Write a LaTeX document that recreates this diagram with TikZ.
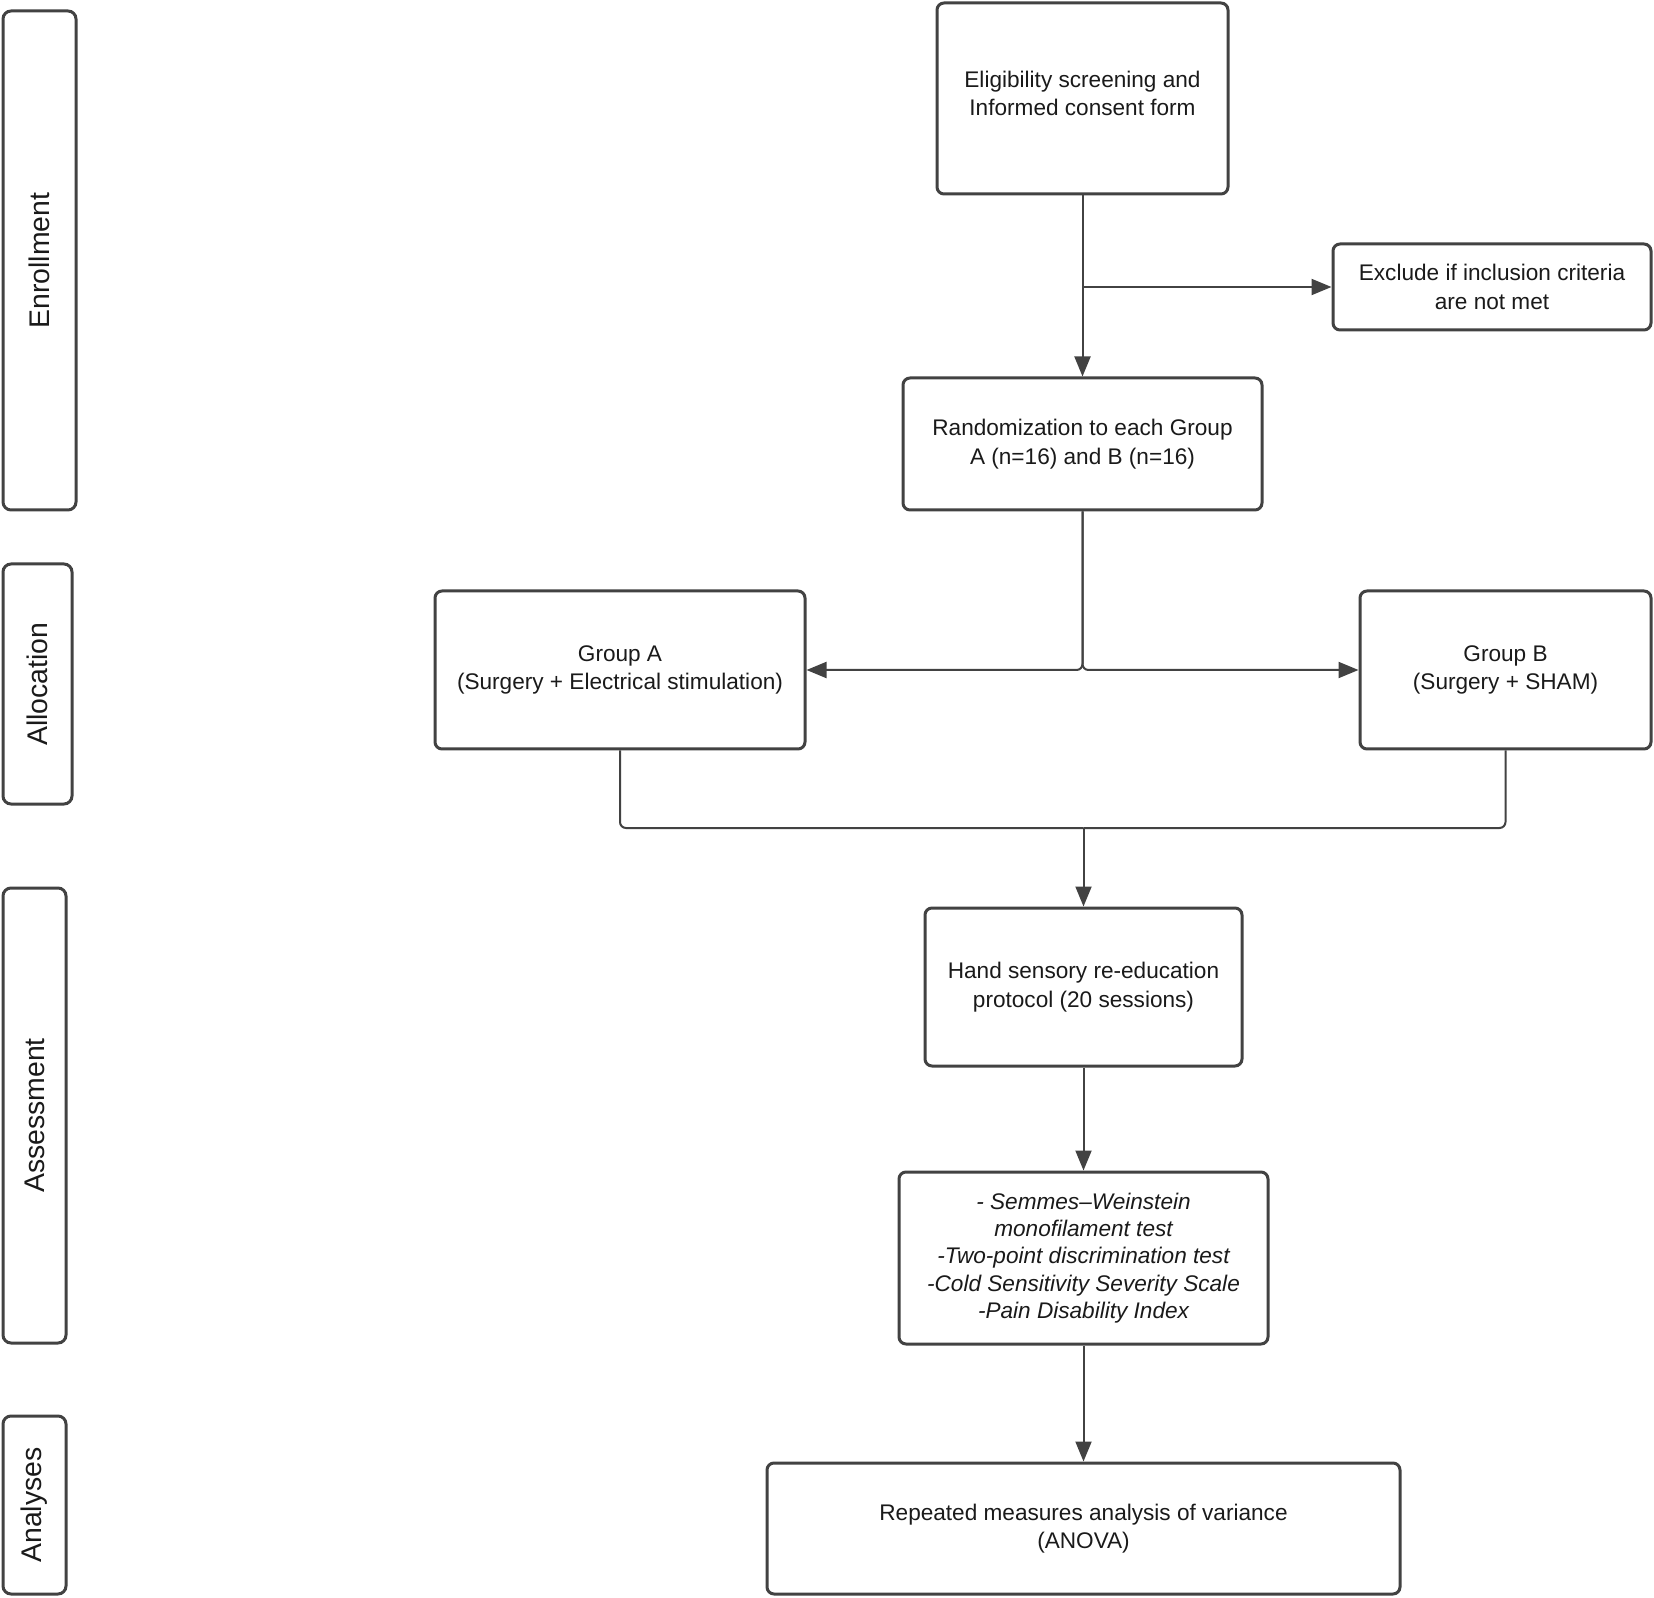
\documentclass[tikz,border=0pt]{standalone}
\usepackage{fontspec}
\setmainfont{Liberation Sans}
\usetikzlibrary{arrows.meta}
\definecolor{linec}{HTML}{424242}
\definecolor{textc}{HTML}{1A1A1A}
\newcommand\mkbox[7]{\node[#1, minimum width={(#5-#3)*0.5pt}, minimum height={(#6-#4)*0.5pt}] (#2) at ({(#3+#5)/2},{(#4+#6)/2}) {#7};}
\begin{document}
\begin{tikzpicture}[x=0.5pt,y=-0.5pt,
 box/.style={draw=linec, line width=1.5pt, rounded corners=3.5pt, align=center, text=textc, inner sep=0pt, fill=white, font=\fontsize{11.3}{14.2}\selectfont},
 lane/.style={draw=linec, line width=1.5pt, rounded corners=4pt, inner sep=0pt},
 lanelabel/.style={rotate=90, text=textc, inner sep=0pt, font=\fontsize{14.2}{16}\selectfont},
 conn/.style={draw=linec, line width=1pt, rounded corners=3pt},
 arr/.style={conn, -{Triangle[length=10pt,width=8pt]}}]
\useasboundingbox (0,0) rectangle (1654,1598);
% lanes
\mkbox{lane}{laneE}{3}{11}{76}{510}{}
\mkbox{lane}{laneL}{3}{564}{72}{804}{}
\mkbox{lane}{laneA}{3}{888}{66}{1343}{}
\mkbox{lane}{laneN}{3}{1416}{66}{1594}{}
\node[lanelabel] (labE) at (laneE.center) {Enrollment};
\node[lanelabel] (labL) at (laneL.center) {Allocation};
\node[lanelabel] (labA) at (laneA.center) {Assessment};
\node[lanelabel] (labN) at (laneN.center) {Analyses};
% boxes
\mkbox{box}{elig}{937}{3}{1228}{194}{Eligibility screening and\\Informed consent form\\[-9pt]\mbox{}}
\mkbox{box}{excl}{1333}{244}{1651}{330}{Exclude if inclusion criteria\\are not met}
\mkbox{box}{rand}{903}{378}{1262}{510}{Randomization to each Group\\A (n=16) and B (n=16)}
\mkbox{box}{ga}{435}{591}{805}{749}{Group A\\(Surgery + Electrical stimulation)}
\mkbox{box}{gb}{1360}{591}{1651}{749}{Group B\\(Surgery + SHAM)}
\mkbox{box}{hand}{925}{908}{1242}{1066}{Hand sensory re-education\\protocol (20 sessions)}
\mkbox{box, font=\fontsize{11.3}{13.6}\selectfont\itshape}{tests}{899}{1172}{1268}{1344}{- Semmes–Weinstein\\monofilament test\\-Two-point discrimination test\\-Cold Sensitivity Severity Scale\\-Pain Disability Index}
\mkbox{box}{anova}{767}{1463}{1400}{1594}{Repeated measures analysis of variance\\(ANOVA)}
% connectors
\draw[arr] (elig.south) -- (rand.north);
\coordinate (exj) at (elig.south |- excl.west);
\draw[arr] (exj) -- (excl.west);
\draw[arr] (rand.south) |- (ga.east);
\draw[arr] (rand.south) |- (gb.west);
\coordinate (mrg) at (1083.5,828);
\draw[conn] (ga.south) |- (mrg);
\draw[conn] (gb.south) |- (mrg);
\draw[arr] (mrg) -- (hand.north);
\draw[arr] (hand.south) -- (tests.north);
\draw[arr] (tests.south) -- (anova.north);
\end{tikzpicture}
\end{document}
